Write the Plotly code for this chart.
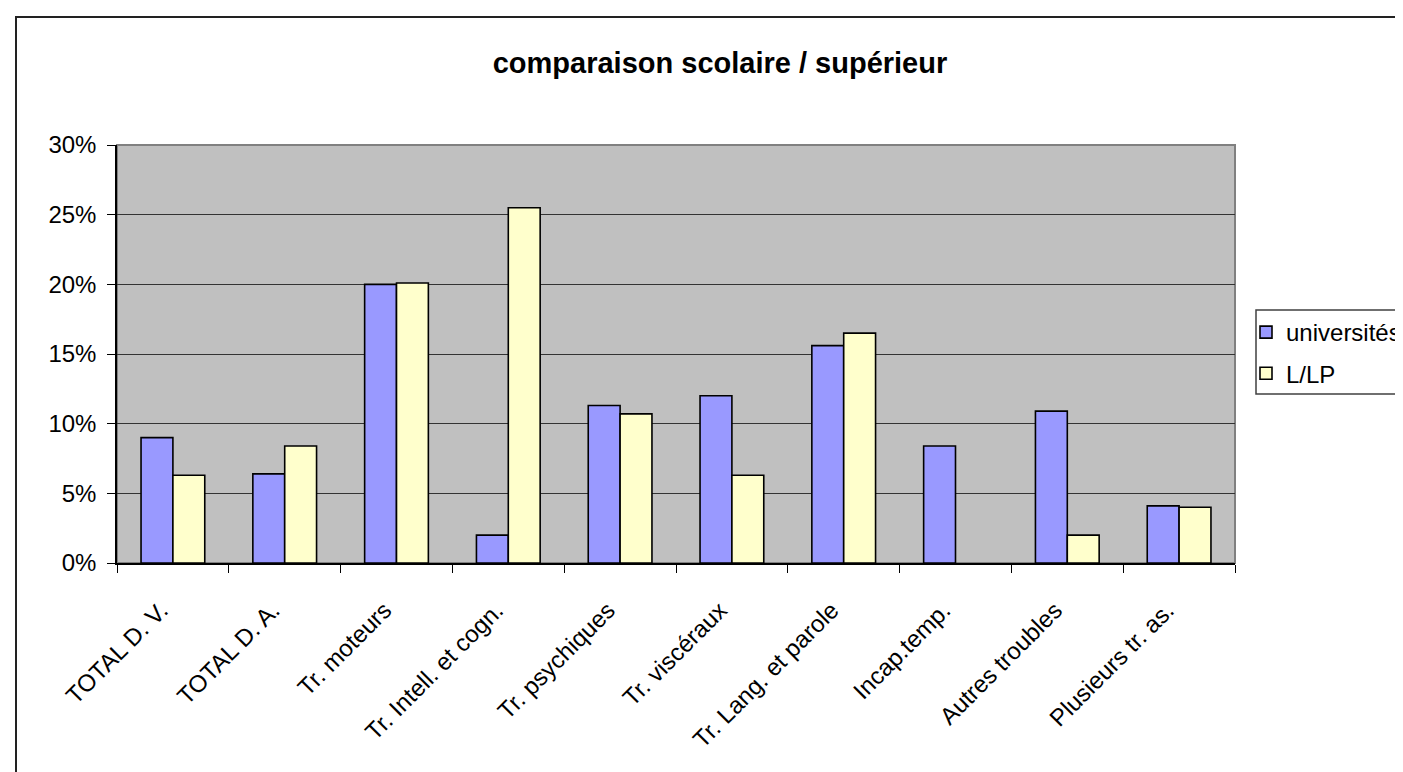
import plotly.graph_objects as go

categories = ["TOTAL D. V.", "TOTAL D. A.", "Tr. moteurs", "Tr. Intell. et cogn.",
              "Tr. psychiques", "Tr. viscéraux", "Tr. Lang. et parole", "Incap.temp.",
              "Autres troubles", "Plusieurs tr. as."]
universites = [0.090, 0.064, 0.200, 0.020, 0.113, 0.120, 0.156, 0.084, 0.109, 0.041]
l_lp = [0.063, 0.084, 0.201, 0.255, 0.107, 0.063, 0.165, None, 0.020, 0.040]
series_names = ["universités", "L/LP"]
title_text = "comparaison scolaire / supérieur"

W, H = 1403, 772
L, R, T, B = 109, 1227, 137, 555
pw, ph = R - L, B - T

def px_x(x):
    return (x - L) / pw

def px_y(y):
    return (B - y) / ph

FONT = "Liberation Sans, Arial, sans-serif"

fig = go.Figure()
fig.add_trace(go.Bar(x=categories, y=universites, name=series_names[0], legendgroup="a",
                     marker=dict(color="#9999FF", line=dict(color="black", width=1.6))))
fig.add_trace(go.Bar(x=categories, y=l_lp, name=series_names[1], legendgroup="b",
                     marker=dict(color="#FFFFCC", line=dict(color="black", width=1.6))))

fig.update_layout(
    width=W, height=H,
    margin=dict(l=L, r=W - R, t=T, b=H - B, autoexpand=False),
    paper_bgcolor="white",
    plot_bgcolor="#C0C0C0",
    barmode="group",
    bargap=0.43,
    bargroupgap=0,
    font=dict(family=FONT, size=24, color="black"),
    title=dict(text=title_text, x=712 / W, xref="container", xanchor="center",
               y=1 - 55 / H, yref="container", yanchor="middle",
               font=dict(family=FONT, size=29, color="black", weight="bold")),
    showlegend=True,
    legend=dict(x=px_x(1238), y=px_y(302), xanchor="left", yanchor="top",
                xref="paper", yref="paper",
                borderwidth=0, bgcolor="rgba(0,0,0,0)",
                font=dict(family=FONT, size=24, color="black"),
                tracegroupgap=7, itemwidth=30),
    xaxis=dict(type="category", tickangle=-45, showgrid=False,
               showline=True, linecolor="black", linewidth=1.5,
               ticks="outside", ticklen=8, tickcolor="black", tickwidth=1,
               tickson="boundaries", ticklabelstandoff=22, ticklabelshift=-12,
               tickfont=dict(family=FONT, size=24, color="black"),
               zeroline=False),
    yaxis=dict(range=[0, 0.30], dtick=0.05, tickformat=".0%",
               showgrid=True, gridcolor="#333333", gridwidth=1,
               showline=True, linecolor="black", linewidth=1.5,
               ticks="outside", ticklen=8, tickcolor="black", tickwidth=1,
               ticklabelstandoff=6,
               tickfont=dict(family=FONT, size=24, color="black"),
               zeroline=False),
    shapes=[
        dict(type="rect", xref="paper", yref="paper", x0=0, x1=1, y0=0, y1=1,
             line=dict(color="#808080", width=2), layer="below"),
        dict(type="rect", xref="paper", yref="paper",
             x0=px_x(8), x1=px_x(1450), y0=px_y(9), y1=px_y(800),
             line=dict(color="#222222", width=2), fillcolor="rgba(0,0,0,0)", layer="above"),
        dict(type="rect", xref="paper", yref="paper",
             x0=px_x(1248), x1=px_x(1450), y0=px_y(302), y1=px_y(386),
             line=dict(color="#404040", width=1.5), fillcolor="rgba(0,0,0,0)", layer="above"),
    ],
)

fig.write_html("out.html")
